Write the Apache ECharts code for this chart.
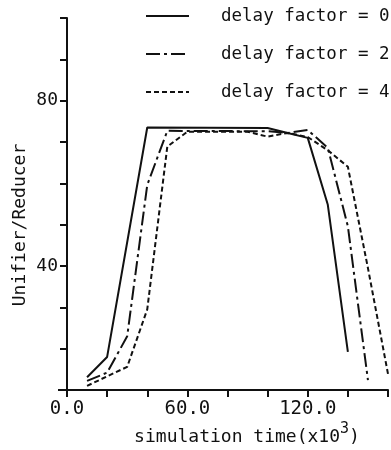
<!DOCTYPE html>
<html>
<head>
<meta charset="utf-8">
<script src="https://cdn.jsdelivr.net/npm/echarts@6/dist/echarts.min.js"></script>
<style>
html,body{margin:0;padding:0;background:#fff;}
#chart{width:391px;height:450px;}
</style>
</head>
<body>
<div id="chart"></div>
<script>
// Data
const seriesNames = ['delay factor = 0', 'delay factor = 2', 'delay factor = 4'];
const delay0X = [10, 20, 40, 100, 110, 120, 130, 140];
const delay0Y = [13.1, 18.0, 73.5, 73.4, 72.2, 71.0, 54.8, 19.2];
const delay2X = [10, 20, 30, 40, 50, 100, 110, 120, 130, 140, 150];
const delay2Y = [12.2, 14.2, 23.0, 59.6, 72.7, 72.6, 72.2, 72.9, 68.6, 49.6, 12.4];
const delay4X = [10, 30, 40, 50, 60, 90, 100, 110, 120, 130, 140, 150, 160];
const delay4Y = [11.0, 15.6, 29.5, 68.9, 72.5, 72.5, 71.3, 72.2, 71.2, 68.0, 64.0, 39.5, 13.9];
const xTickLabels = [0, 60, 120];
const yTickLabels = [40, 80];
const xAxisTitle = 'simulation time(x10';
const xAxisSup = '3';
const yAxisTitle = 'Unifier/Reducer';

const pair = (xs, ys) => xs.map((x, i) => [x, ys[i]]);
const FONT = 'DejaVu Sans Mono';
const INK = '#111';

const chart = echarts.init(document.getElementById('chart'), null, {renderer: 'canvas'});
chart.setOption({
  animation: false,
  backgroundColor: '#fff',
  grid: {left: 67, right: 0, top: 18, bottom: 60, containLabel: false},
  legend: {
    orient: 'vertical',
    left: 140,
    top: 1,
    itemWidth: 43,
    itemHeight: 14,
    itemGap: 18,
    selectedMode: false,
    itemStyle: {opacity: 0},
    textStyle: {fontFamily: FONT, fontSize: 17.5, color: INK, lineHeight: 20, padding: [0, 0, 0, 27]},
    data: seriesNames
  },
  xAxis: {
    type: 'value',
    min: 0, max: 160, interval: 20,
    splitLine: {show: false},
    axisLine: {lineStyle: {color: INK, width: 2}},
    axisTick: {show: true, length: 7, lineStyle: {color: INK, width: 2}},
    axisLabel: {
      fontFamily: FONT, fontSize: 19, color: INK, margin: 10,
      formatter: v => xTickLabels.includes(v) ? v.toFixed(1) : ''
    }
  },
  yAxis: {
    type: 'value',
    min: 10, max: 100, interval: 10,
    splitLine: {show: false},
    axisLine: {show: true, lineStyle: {color: INK, width: 2}},
    axisTick: {show: true, length: 7, lineStyle: {color: INK, width: 2}},
    axisLabel: {
      fontFamily: FONT, fontSize: 18, color: INK, margin: 9,
      formatter: v => yTickLabels.includes(v) ? String(v) : ''
    }
  },
  graphic: [
    {
      type: 'line', shape: {x1: 58, y1: 390, x2: 68, y2: 390},
      style: {stroke: INK, lineWidth: 2}
    },
    {
      type: 'text', x: 20, y: 225, rotation: Math.PI / 2,
      style: {text: yAxisTitle, font: '18px "DejaVu Sans Mono"', fill: INK, align: 'center', verticalAlign: 'middle'}
    },
    {
      type: 'text', x: 247, y: 437,
      style: {
        text: '{a|' + xAxisTitle + '}{s|' + xAxisSup + '}{a|)}',
        align: 'center', verticalAlign: 'middle',
        rich: {
          a: {fontFamily: FONT, fontSize: 18, fill: INK, color: INK, lineHeight: 30, verticalAlign: 'bottom', height: 30},
          s: {fontFamily: FONT, fontSize: 15, fill: INK, color: INK, verticalAlign: 'top', lineHeight: 30}
        }
      }
    }
  ],
  series: [
    {
      name: seriesNames[0], type: 'line', data: pair(delay0X, delay0Y),
      symbol: 'none', clip: true,
      lineStyle: {color: INK, width: 2, type: 'solid'},
      itemStyle: {color: INK}
    },
    {
      name: seriesNames[1], type: 'line', data: pair(delay2X, delay2Y),
      symbol: 'none', clip: true,
      lineStyle: {color: INK, width: 2, type: [14, 4, 3, 4]},
      itemStyle: {color: INK}
    },
    {
      name: seriesNames[2], type: 'line', data: pair(delay4X, delay4Y),
      symbol: 'none', clip: true,
      lineStyle: {color: INK, width: 2, type: [5, 3]},
      itemStyle: {color: INK}
    }
  ]
});
</script>
</body>
</html>
